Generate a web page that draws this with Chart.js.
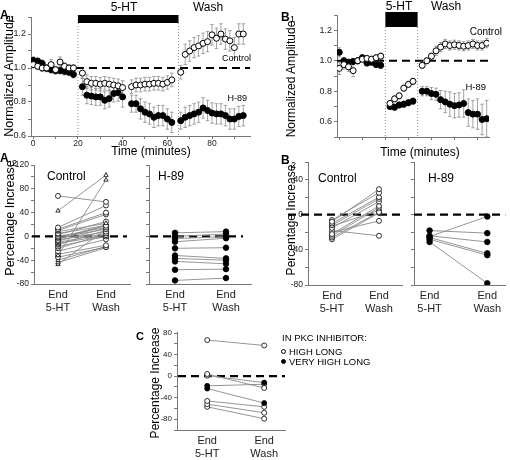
<!DOCTYPE html>
<html>
<head>
<meta charset="utf-8">
<script src="https://cdn.jsdelivr.net/npm/chart.js@4.4.1/dist/chart.umd.min.js"></script>
<style>
  body { margin: 0; background: #fff; }
  #page { position: relative; width: 510px; height: 460px; overflow: hidden; font-family: "Liberation Sans", Arial, sans-serif; }
  #page canvas { position: absolute; left: 0; top: 0; }
  .t { position: absolute; white-space: nowrap; color: #000; line-height: 1; }
  .c { transform: translate(-50%, -50%); }
  .r { transform: translate(-100%, -50%); }
  .rot { transform: translate(-50%, -50%) rotate(-90deg); }
  .b { font-weight: bold; }
  .mk { position: absolute; width: 5px; height: 5px; border: 1px solid #000; border-radius: 50%; box-sizing: border-box; }
</style>
</head>
<body>
<div id="page">
  <canvas id="a1Chart" width="510" height="460"></canvas>
  <canvas id="b1Chart" width="510" height="460"></canvas>
  <canvas id="a2cChart" width="510" height="460"></canvas>
  <canvas id="a2hChart" width="510" height="460"></canvas>
  <canvas id="b2cChart" width="510" height="460"></canvas>
  <canvas id="b2hChart" width="510" height="460"></canvas>
  <canvas id="cChart" width="510" height="460"></canvas>

  <!-- panel letters -->
  <div class="t b" style="left:0px;top:9px;font-size:12px">A</div>
  <div class="t" style="left:10px;top:15px;font-size:9px">1</div>
  <div class="t b" style="left:281px;top:11px;font-size:12px">B</div>
  <div class="t" style="left:290px;top:15px;font-size:9px">1</div>
  <div class="t b" style="left:0px;top:152px;font-size:12px">A</div>
  <div class="t" style="left:12px;top:159px;font-size:9px">2</div>
  <div class="t b" style="left:281px;top:154px;font-size:12px">B</div>
  <div class="t" style="left:291px;top:161px;font-size:9px">2</div>
  <div class="t b" style="left:136px;top:331px;font-size:11px">C</div>

  <!-- A1 texts -->
  <div class="t c" style="left:124px;top:7px;font-size:12px">5-HT</div>
  <div class="t c" style="left:208px;top:7px;font-size:12px">Wash</div>
  <div class="t r" style="left:251px;top:58px;font-size:9px">Control</div>
  <div class="t r" style="left:247px;top:98px;font-size:9px">H-89</div>
  <div class="t rot" style="left:9px;top:76px;font-size:12.5px">Normalized Amplitude</div>
  <div class="t c" style="left:151px;top:151px;font-size:12px">Time (minutes)</div>

  <!-- B1 texts -->
  <div class="t c" style="left:399px;top:6px;font-size:12px">5-HT</div>
  <div class="t c" style="left:446px;top:6px;font-size:12px">Wash</div>
  <div class="t r" style="left:502px;top:32px;font-size:10px">Control</div>
  <div class="t r" style="left:486px;top:87px;font-size:9.5px">H-89</div>
  <div class="t rot" style="left:291px;top:79px;font-size:12px">Normalized Amplitude</div>
  <div class="t c" style="left:420px;top:152px;font-size:12px">Time (minutes)</div>

  <!-- A2 / B2 texts -->
  <div class="t rot" style="left:10px;top:218px;font-size:12.5px">Percentage Increase</div>
  <div class="t" style="left:47px;top:170px;font-size:12px">Control</div>
  <div class="t" style="left:158px;top:170px;font-size:12px">H-89</div>
  <div class="t rot" style="left:291px;top:220px;font-size:12px">Percentage Increase</div>
  <div class="t" style="left:318px;top:172px;font-size:12px">Control</div>
  <div class="t" style="left:428px;top:172px;font-size:12px">H-89</div>

  <!-- C texts -->
  <div class="t rot" style="left:155px;top:383px;font-size:12px">Percentage Increase</div>
  <div class="t" style="left:282px;top:333px;font-size:9.5px">IN PKC INHIBITOR:</div>
  <div class="mk" style="left:281px;top:349px;background:#fff"></div>
  <div class="t" style="left:289px;top:347px;font-size:9.5px">HIGH LONG</div>
  <div class="mk" style="left:281px;top:359px;background:#000"></div>
  <div class="t" style="left:289px;top:357px;font-size:9.5px">VERY HIGH LONG</div>
</div>

<script>
// ---------- A1: normalized amplitude over time ----------
const a1Time = [0, 2, 4, 6, 8, 10, 12, 14, 16, 18,
  22, 24, 26, 28, 30, 32, 34, 36, 38, 40,
  44, 46, 48, 50, 52, 54, 56, 58, 60, 62,
  66, 68, 70, 72, 74, 76, 78, 80, 82, 84, 86, 88, 90, 92, 94];
const a1ControlMean = [1.02, 1.01, 1.0, 1.0, 1.02, 0.99, 1.035, 1.01, 1.0, 1.0,
  0.97, 0.92, 0.91, 0.91, 0.905, 0.91, 0.905, 0.90, 0.895, 0.885,
  0.89, 0.90, 0.90, 0.905, 0.905, 0.91, 0.91, 0.905, 0.915, 0.93,
  0.975, 1.08, 1.10, 1.12, 1.13, 1.145, 1.155, 1.195, 1.175, 1.20, 1.17, 1.16, 1.12, 1.20, 1.20];
const a1ControlErr = [0.02, 0.02, 0.02, 0.02, 0.03, 0.02, 0.03, 0.02, 0.02, 0.02,
  0.03, 0.04, 0.04, 0.04, 0.04, 0.04, 0.04, 0.04, 0.04, 0.04,
  0.04, 0.04, 0.04, 0.04, 0.04, 0.04, 0.04, 0.04, 0.04, 0.04,
  0.04, 0.06, 0.06, 0.06, 0.06, 0.06, 0.06, 0.06, 0.06, 0.06, 0.06, 0.06, 0.06, 0.06, 0.06];
const a1H89Mean = [1.045, 1.04, 1.027, 0.998, 0.99, 0.984, 0.985, 0.98, 0.975, 0.962,
  0.89, 0.84, 0.835, 0.83, 0.83, 0.81, 0.82, 0.85, 0.855, 0.83,
  0.79, 0.79, 0.76, 0.74, 0.73, 0.71, 0.72, 0.72, 0.70, 0.68,
  0.69, 0.71, 0.72, 0.73, 0.74, 0.765, 0.75, 0.735, 0.73, 0.73, 0.72, 0.70, 0.70, 0.715, 0.72];
const a1H89Err = [0.02, 0.02, 0.02, 0.02, 0.02, 0.02, 0.02, 0.02, 0.02, 0.02,
  0.05, 0.05, 0.05, 0.05, 0.05, 0.05, 0.05, 0.05, 0.05, 0.06,
  0.05, 0.05, 0.06, 0.06, 0.06, 0.06, 0.06, 0.06, 0.06, 0.06,
  0.05, 0.06, 0.06, 0.06, 0.06, 0.06, 0.06, 0.06, 0.06, 0.06, 0.06, 0.06, 0.06, 0.06, 0.06];
const a1XTicks = [0, 10, 20, 30, 40, 50, 60, 70, 80, 90];
const a1XLabels = [0, 20, 40, 60, 80];
const a1YTicks = [0.6, 0.7, 0.8, 0.9, 1.0, 1.1, 1.2, 1.3];
const a1YLabels = [0.6, 0.8, 1.0, 1.2];
const a1Drug = [20, 65];

// ---------- B1 ----------
const b1Time = [0, 2, 4, 6, 8, 10, 12, 14, 16, 18,
  22, 24, 26, 28, 30, 32,
  36, 38, 40, 42, 44, 46, 48, 50, 52, 54, 56, 58, 60, 62, 64];
const b1ControlMean = [0.95, 0.975, 0.96, 0.935, 1.0, 1.01, 1.015, 1.01, 1.02, 1.03,
  0.72, 0.75, 0.77, 0.82, 0.845, 0.865,
  0.97, 1.0, 1.03, 1.065, 1.09, 1.11, 1.10, 1.105, 1.10, 1.095, 1.10, 1.11, 1.10, 1.10, 1.115];
const b1ControlErr = [0.04, 0.03, 0.03, 0.04, 0.02, 0.02, 0.02, 0.02, 0.02, 0.02,
  0.02, 0.02, 0.02, 0.02, 0.02, 0.02,
  0.02, 0.02, 0.02, 0.03, 0.03, 0.03, 0.03, 0.03, 0.03, 0.03, 0.03, 0.03, 0.03, 0.03, 0.03];
const b1H89Mean = [1.055, 1.0, 0.99, 0.995, 1.0, 1.02, 0.985, 0.99, 0.975, 0.97,
  0.70, 0.695, 0.71, 0.715, 0.725, 0.735,
  0.80, 0.80, 0.785, 0.78, 0.745, 0.73, 0.715, 0.705, 0.71, 0.72, 0.66, 0.65, 0.65, 0.615, 0.62];
const b1H89Err = [0.03, 0.02, 0.02, 0.02, 0.02, 0.02, 0.02, 0.02, 0.02, 0.02,
  0.02, 0.02, 0.02, 0.02, 0.02, 0.02,
  0.03, 0.03, 0.04, 0.04, 0.06, 0.07, 0.08, 0.08, 0.08, 0.09, 0.09, 0.09, 0.10, 0.10, 0.12];
const b1XTicks = [0, 10, 20, 30, 40, 50, 60];
const b1YTicks = [0.5, 0.6, 0.7, 0.8, 0.9, 1.0, 1.1, 1.2, 1.3];
const b1YLabels = [0.6, 0.8, 1.0, 1.2];
const b1Drug = [20, 34];

// ---------- A2 (End 5-HT -> End Wash) ----------
const a2ControlStart = [68, 43, -32, 15, 12, 10, 8, 5, 3, 0, -2, -4, -6, -8, -10, -12, -14, -17, -20, -25, -30, -35, -40, -44, -47, 1, -5];
const a2ControlEnd   = [58, 103, 95, 52, 40, 37, 22, 18, 25, 15, 12, 20, 8, 14, 5, 2, 10, 0, 4, -5, -15, -18, -17, -19, 12, -2, 18];
const a2ControlShape = ['circle', 'triangle', 'triangle', 'circle', 'circle', 'circle', 'triangle', 'circle', 'circle', 'circle', 'circle', 'triangle', 'circle', 'circle', 'circle', 'circle', 'circle', 'circle', 'circle', 'circle', 'circle', 'circle', 'triangle', 'triangle', 'triangle', 'circle', 'circle'];
const a2H89Start = [6, 0, -4, -9, -20, -32, -37, -42, -56, -74];
const a2H89End   = [8, 4, 0, -3, -19, -37, -40, -46, -55, -70];
const a2YTicks = [-80, -60, -40, -20, 0, 20, 40, 60, 80, 100, 120];
const a2YLabels = [-80, -40, 0, 40, 80, 120];

// ---------- B2 ----------
const b2ControlStart = [-8, -6, -10, -12, -15, -22, -24, -26, -28, -18, -20, -13];
const b2ControlEnd   = [29, 25, 20, 18, 15, 10, 8, 3, 2, -24, -7, 5];
const b2H89Start = [-25, -18, -24, -26, -28, -31];
const b2H89End   = [-2, -21, -31, -44, -46, -78];
const b2YTicks = [-80, -60, -40, -20, 0, 20, 40, 60];
const b2YLabels = [-80, -40, 0, 40];

// ---------- C ----------
const cStart = [67, 4, 1, -18, -23, -46, -52, -57];
const cEnd   = [57, -22, -12, -15, -50, -57, -68, -79];
const cStartFilled = [false, false, false, true, true, false, false, false];
const cEndFilled   = [false, false, true, false, true, false, false, false];
const cYTicks = [-100, -80, -60, -40, -20, 0, 20, 40, 60, 80];
const cYLabels = [-80, -40, 0, 40, 80];

const pairTicks = [0, 1];
const pairLabels = [['End', '5-HT'], ['End', 'Wash']];

const FONT = '"Liberation Sans", Arial, sans-serif';

// error bars, drawn behind the markers
const errorBars = {
    id: 'errorBars',
    beforeDatasetsDraw(chart) {
        const { ctx, scales: { x, y } } = chart;
        ctx.save();
        ctx.strokeStyle = '#8c8c8c';
        ctx.lineWidth = 0.8;
        chart.data.datasets.forEach(ds => {
            if (!ds.errors) return;
            ds.data.forEach((p, j) => {
                const px = x.getPixelForValue(p.x);
                const top = y.getPixelForValue(p.y + ds.errors[j]);
                const bot = y.getPixelForValue(p.y - ds.errors[j]);
                ctx.beginPath();
                ctx.moveTo(px, top); ctx.lineTo(px, bot);
                ctx.moveTo(px - 1.8, top); ctx.lineTo(px + 1.8, top);
                ctx.moveTo(px - 1.8, bot); ctx.lineTo(px + 1.8, bot);
                ctx.stroke();
            });
        });
        ctx.restore();
    }
};

// dashed baseline, drug bar and its dotted edges
const decor = {
    id: 'decor',
    beforeDatasetsDraw(chart, args, o) {
        const { ctx, chartArea, scales: { x, y } } = chart;
        ctx.save();
        if (o.drug) {
            const x0 = x.getPixelForValue(o.drug[0]);
            const x1 = x.getPixelForValue(o.drug[1]);
            ctx.strokeStyle = '#777';
            ctx.lineWidth = 0.8;
            ctx.setLineDash([1, 2]);
            [x0, x1].forEach(px => {
                ctx.beginPath();
                ctx.moveTo(px, o.barTop + o.barHeight);
                ctx.lineTo(px, chartArea.bottom);
                ctx.stroke();
            });
            ctx.setLineDash([]);
            ctx.fillStyle = '#000';
            ctx.fillRect(x0, o.barTop, x1 - x0, o.barHeight);
        }
        if (o.refY !== undefined) {
            const py = y.getPixelForValue(o.refY);
            ctx.strokeStyle = '#000';
            ctx.lineWidth = 2.2;
            ctx.setLineDash([8, 5]);
            ctx.beginPath();
            ctx.moveTo(chartArea.left + (o.refFrom || 0), py);
            ctx.lineTo(chartArea.right + (o.refTo || 0), py);
            ctx.stroke();
        }
        ctx.restore();
    }
};

// place the plot area at [left, right, top, bottom] page pixels
function plotBox(area, yw, xh) {
    return { padding: { left: area[0] - yw, right: 510 - area[1], top: area[2], bottom: 460 - area[3] - xh } };
}

function linearAxis(min, max, ticks, labels, fmt, size, fitSide, fitSize, tickLen) {
    return {
        type: 'linear',
        min: min,
        max: max,
        afterBuildTicks: s => { s.ticks = ticks.map(v => ({ value: v })); },
        afterFit: s => { s[fitSide] = fitSize; },
        ticks: {
            font: { family: FONT, size: size },
            color: '#222',
            padding: 2,
            maxRotation: 0,
            autoSkip: false,
            callback: v => (labels && labels.includes(v)) ? fmt(v) : ''
        },
        grid: { display: true, drawOnChartArea: false, drawTicks: tickLen > 0, tickLength: tickLen, color: '#777' },
        border: { display: true, color: '#777', width: 1 }
    };
}

function series(time, mean, err, filled) {
    return {
        data: time.map((t, i) => ({ x: t, y: mean[i] })),
        errors: err,
        showLine: false,
        pointRadius: 3,
        pointBorderWidth: 1,
        pointBorderColor: '#000',
        pointBackgroundColor: filled ? '#000' : '#fff'
    };
}

function pairs(starts, ends, shapes, startFill, endFill, filled) {
    return starts.map((s, i) => ({
        data: [{ x: 0, y: s }, { x: 1, y: ends[i] }],
        showLine: true,
        borderColor: '#8a8a8a',
        borderWidth: 0.9,
        pointRadius: filled ? 2.8 : 2.5,
        pointStyle: shapes ? shapes[i] : 'circle',
        pointBorderColor: '#000',
        pointBorderWidth: 0.8,
        pointBackgroundColor: filled ? '#000' :
            [startFill && startFill[i] ? '#000' : '#fff', endFill && endFill[i] ? '#000' : '#fff']
    }));
}

function makeChart(id, area, yw, xh, datasets, scales, decorOpts) {
    new Chart(document.getElementById(id), {
        type: 'scatter',
        data: { datasets: datasets },
        options: {
            responsive: false,
            animation: false,
            layout: plotBox(area, yw, xh),
            plugins: { legend: { display: false }, tooltip: { enabled: false }, decor: decorOpts },
            scales: scales
        },
        plugins: [errorBars, decor]
    });
}

document.addEventListener('DOMContentLoaded', () => {
    const one = v => v.toFixed(1);
    const int = v => String(v);
    const pairAxis = (min, max) => {
        const ax = linearAxis(min, max, pairTicks, pairTicks, v => pairLabels[v], 11, 'height', 30, 0);
        ax.ticks.padding = 4;
        return ax;
    };

    // A1
    const a1X = linearAxis(-1, 97, a1XTicks, a1XLabels, int, 8.5, 'height', 14, 3);
    a1X.ticks.padding = 0;
    makeChart('a1Chart', [31, 250, 17, 136], 28, 14,
        [series(a1Time, a1ControlMean, a1ControlErr, false), series(a1Time, a1H89Mean, a1H89Err, true)],
        { x: a1X, y: linearAxis(0.6, 1.3, a1YTicks, a1YLabels, one, 9, 'width', 28, 3) },
        { drug: a1Drug, barTop: 15, barHeight: 8, refY: 1.0, refFrom: 6 });

    // B1
    makeChart('b1Chart', [337, 489, 15, 137], 28, 5,
        [series(b1Time, b1ControlMean, b1ControlErr, false), series(b1Time, b1H89Mean, b1H89Err, true)],
        {
            x: linearAxis(-1, 65, b1XTicks, null, int, 9, 'height', 5, 3),
            y: linearAxis(0.5, 1.3, b1YTicks, b1YLabels, one, 9, 'width', 28, 3)
        },
        { drug: b1Drug, barTop: 12, barHeight: 15, refY: 1.0 });

    // A2 control and H-89
    makeChart('a2cChart', [34, 130, 165, 284], 26, 30,
        pairs(a2ControlStart, a2ControlEnd, a2ControlShape),
        { x: pairAxis(-0.5, 1.5), y: linearAxis(-80, 120, a2YTicks, a2YLabels, int, 8.5, 'width', 26, 3) },
        { refY: 0, refFrom: -2, refTo: -3 });
    makeChart('a2hChart', [149, 251, 165, 284], 6, 30,
        pairs(a2H89Start, a2H89End, null, null, null, true),
        { x: pairAxis(-0.51, 1.49), y: linearAxis(-80, 120, a2YTicks, null, int, 8.5, 'width', 6, 3) },
        { refY: 0, refFrom: 1, refTo: -8 });

    // B2 control and H-89
    makeChart('b2cChart', [308, 402, 162, 285], 24, 30,
        pairs(b2ControlStart, b2ControlEnd),
        { x: pairAxis(-0.51, 1.49), y: linearAxis(-80, 60, b2YTicks, b2YLabels, int, 8.5, 'width', 24, 3) },
        { refY: 0, refFrom: -20, refTo: -2 });
    makeChart('b2hChart', [414, 509, 162, 285], 6, 30,
        pairs(b2H89Start, b2H89End, null, null, null, true),
        { x: pairAxis(-0.27, 1.31), y: linearAxis(-80, 60, b2YTicks, null, int, 8.5, 'width', 6, 3) },
        { refY: 0 });

    // C
    makeChart('cChart', [177, 285, 332, 433], 24, 27,
        pairs(cStart, cEnd, null, cStartFilled, cEndFilled, false),
        { x: pairAxis(-0.53, 1.365), y: linearAxis(-100, 82, cYTicks, cYLabels, int, 8, 'width', 24, 3) },
        { refY: 0, refFrom: 1 });
});
</script>
</body>
</html>
